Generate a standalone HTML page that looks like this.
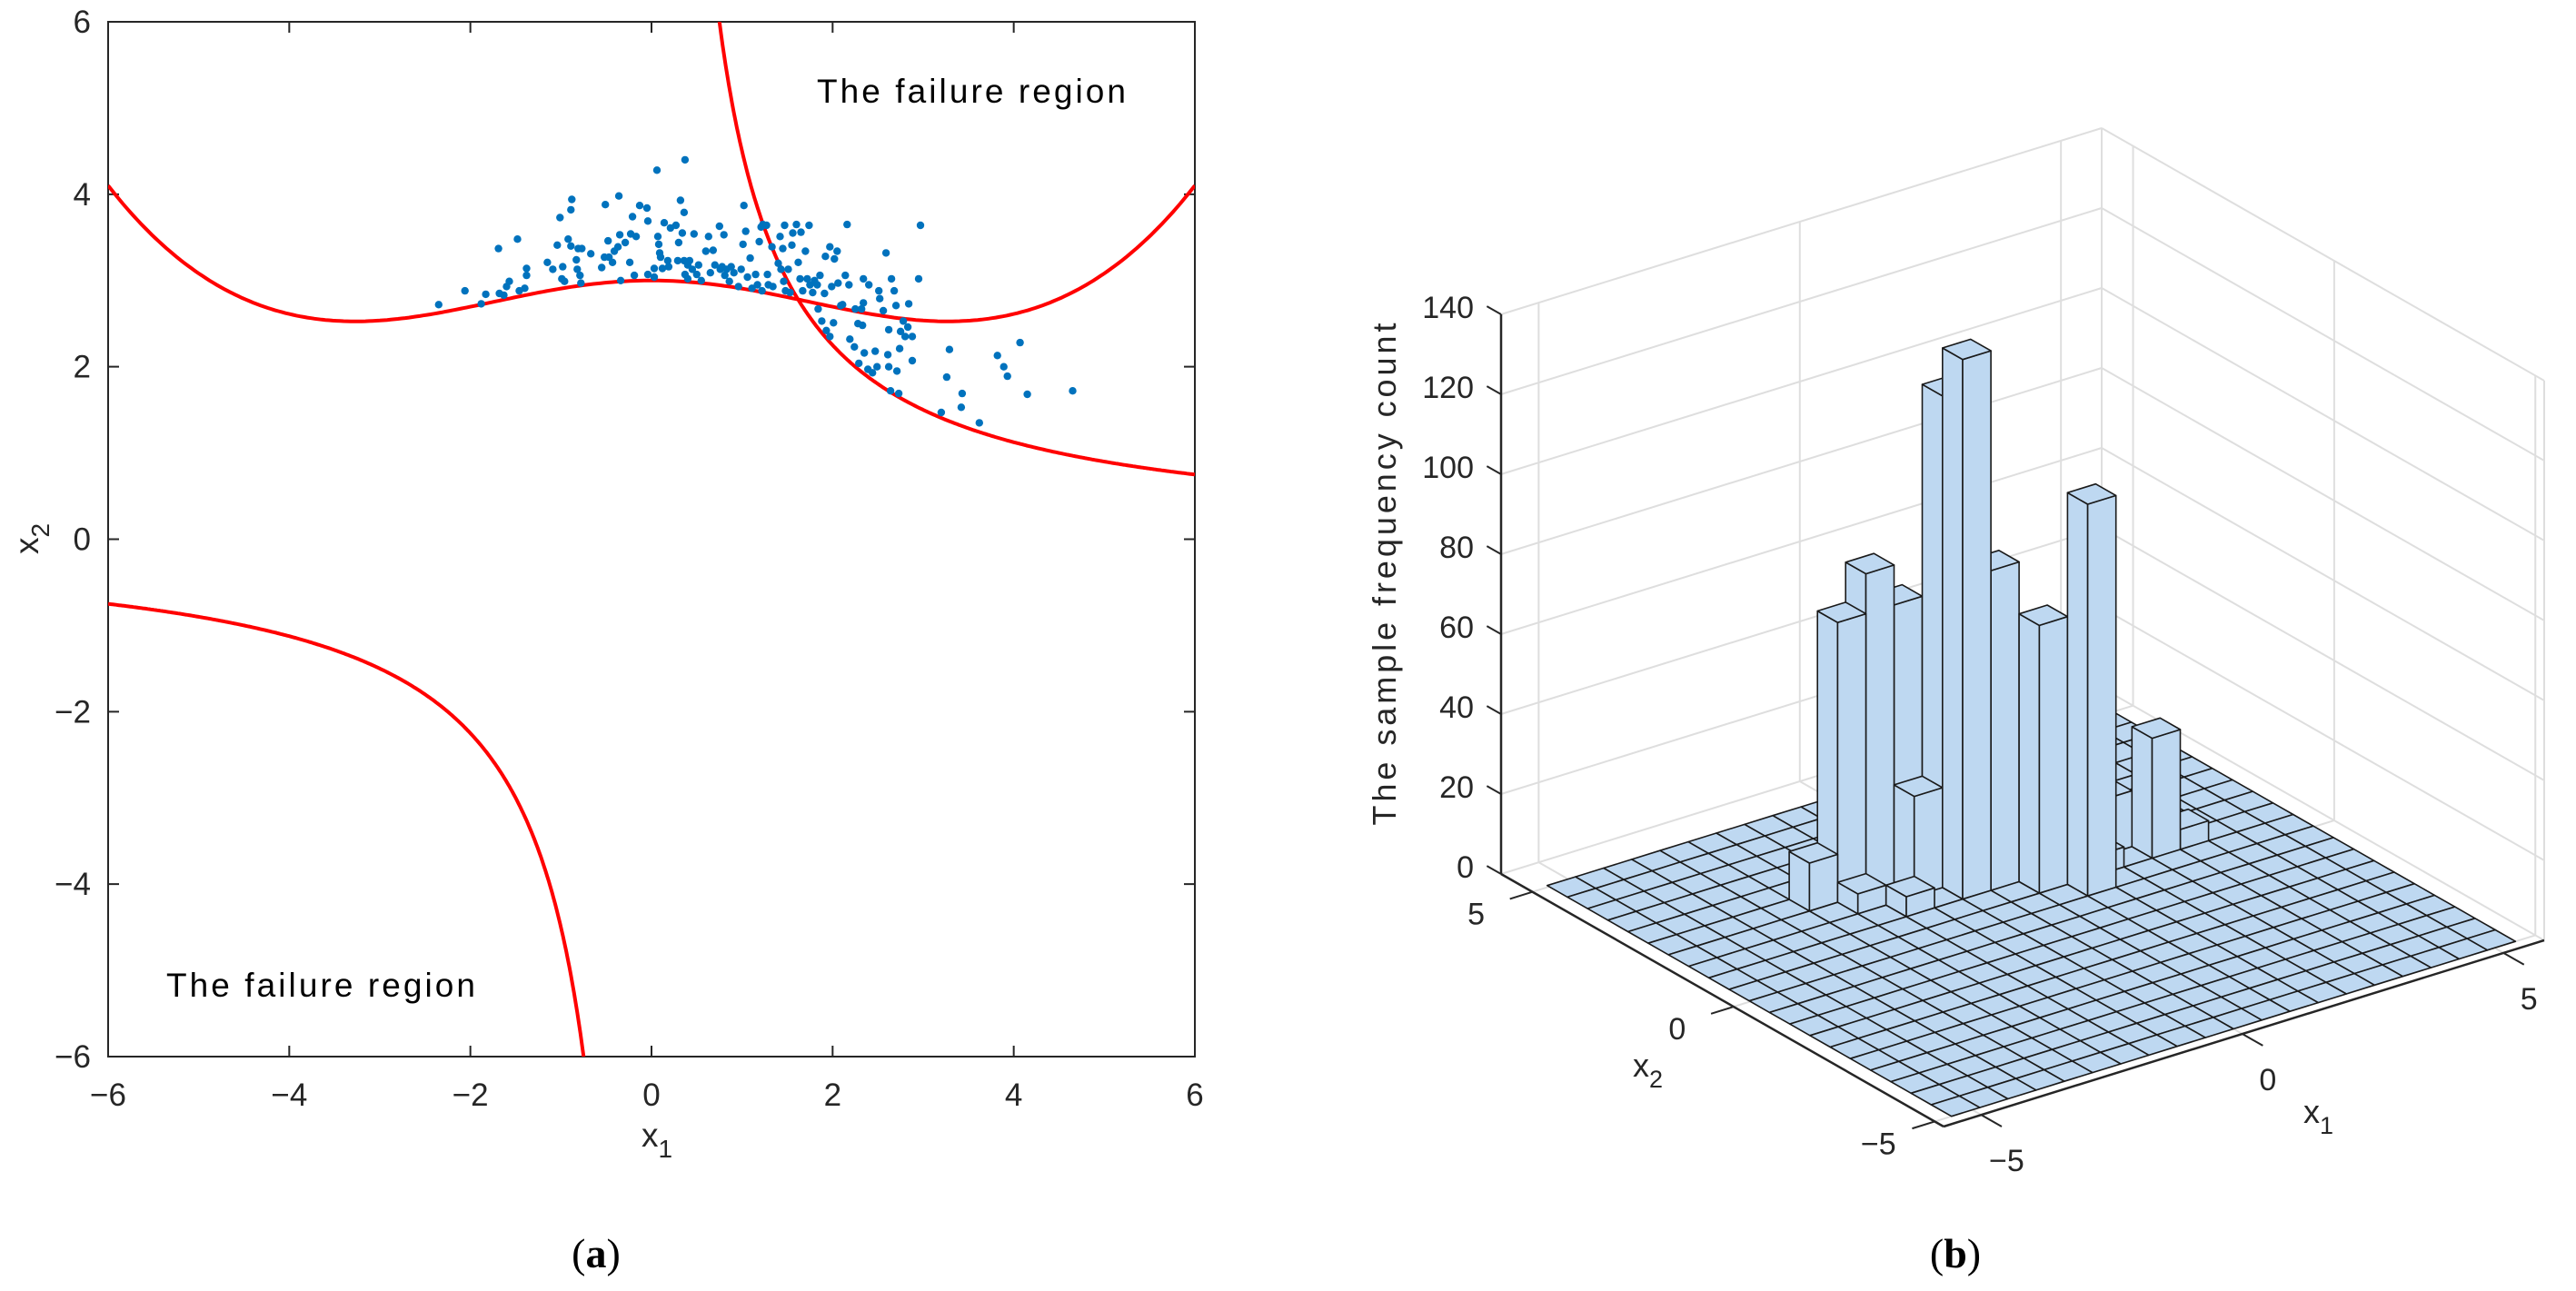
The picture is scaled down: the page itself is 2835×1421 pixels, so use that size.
<!DOCTYPE html>
<html><head><meta charset="utf-8"><style>
html,body{margin:0;padding:0;background:#fff;}
svg{display:block;font-family:"Liberation Sans",Arial,sans-serif;}
</style></head><body>
<svg id="fig" width="2835" height="1421" viewBox="0 0 2835 1421" xmlns="http://www.w3.org/2000/svg">
<g id="left"></g>
<g id="right"></g>
<text x="656" y="1395" font-family="Liberation Serif,serif" font-size="46" text-anchor="middle" fill="#000">(<tspan font-weight="bold">a</tspan>)</text>
<text x="2152" y="1395" font-family="Liberation Serif,serif" font-size="46" text-anchor="middle" fill="#000">(<tspan font-weight="bold">b</tspan>)</text>
</svg>
<script>
// ---------- data: panel (a) ----------
const sampleX1 = [-2.35,-2.06,-1.88,-1.83,-1.69,-1.68,-1.63,-1.60,-1.57,-1.48,-1.46,-1.40,-1.38,-1.38,-1.15,-1.09,-1.04,-1.01,-0.99,-0.98,-0.96,-0.92,-0.89,-0.88,-0.89,-0.83,-0.82,-0.81,-0.79,-0.78,-0.77,-0.67,-0.55,-0.52,-0.51,-0.48,-0.47,-0.43,-0.41,-0.37,-0.36,-0.35,-0.34,-0.29,-0.24,-0.23,-0.21,-0.19,-0.17,-0.13,-0.05,-0.04,-0.04,0.03,0.03,0.06,0.07,0.08,0.09,0.10,0.12,0.14,0.18,0.19,0.21,0.27,0.29,0.30,0.32,0.34,0.36,0.36,0.37,0.37,0.40,0.40,0.42,0.45,0.47,0.50,0.52,0.55,0.60,0.63,0.65,0.68,0.70,0.75,0.76,0.78,0.80,0.81,0.83,0.86,0.88,0.91,0.96,0.99,1.01,1.02,1.04,1.06,1.09,1.11,1.15,1.17,1.19,1.21,1.22,1.23,1.27,1.28,1.29,1.33,1.34,1.40,1.42,1.43,1.45,1.46,1.47,1.48,1.51,1.53,1.55,1.56,1.60,1.62,1.64,1.65,1.67,1.70,1.72,1.74,1.75,1.78,1.80,1.83,1.84,1.86,1.88,1.91,1.92,1.93,1.97,1.97,1.99,2.01,2.02,2.05,2.06,2.09,2.11,2.14,2.16,2.18,2.19,2.24,2.25,2.28,2.29,2.32,2.33,2.34,2.34,2.35,2.39,2.40,2.44,2.47,2.49,2.51,2.52,2.56,2.59,2.61,2.62,2.62,2.64,2.65,2.68,2.70,2.71,2.73,2.74,2.75,2.78,2.80,2.83,2.84,2.88,2.88,2.95,2.97,3.20,3.26,3.29,3.42,3.43,3.62,3.82,3.89,3.93,4.07,4.15,4.65];
const sampleX2 = [2.72,2.88,2.73,2.84,3.37,2.85,2.83,2.93,2.99,3.48,2.88,2.91,3.06,3.14,3.21,3.13,3.41,3.73,3.02,3.16,2.99,3.48,3.82,3.94,3.40,3.24,3.13,3.37,3.06,2.97,3.37,3.31,3.15,3.27,3.88,3.46,3.27,3.21,3.34,3.39,3.98,3.53,3.00,3.44,3.21,3.54,3.74,3.06,3.51,3.87,3.84,3.69,3.07,3.04,3.14,4.28,3.51,3.42,3.32,3.27,3.14,3.67,3.23,3.16,3.61,3.64,3.23,3.44,3.93,3.55,3.79,3.23,4.40,3.07,3.18,3.02,3.23,3.13,3.54,3.07,3.18,3.00,3.34,3.51,3.09,3.35,3.18,3.63,3.13,3.16,3.53,3.06,3.13,2.99,3.16,3.09,2.93,3.13,3.42,3.87,3.57,3.04,3.26,2.91,3.07,2.95,3.45,3.62,2.88,3.65,3.64,3.07,2.95,3.39,2.93,3.20,3.51,3.13,3.37,2.99,3.64,2.88,3.13,2.86,3.41,3.55,3.65,3.21,3.02,3.56,2.88,3.34,3.02,3.64,2.95,2.86,3.00,2.95,2.67,3.06,2.53,2.85,3.28,2.42,3.39,2.35,2.93,2.51,3.25,3.34,2.97,2.71,2.72,3.06,3.65,2.95,2.32,2.23,2.67,2.50,2.04,2.67,2.48,3.02,2.74,2.16,1.97,2.95,1.93,2.18,2.00,2.88,2.79,2.65,3.32,2.14,2.43,2.00,1.72,3.02,2.88,2.71,1.95,1.69,2.21,2.41,2.53,2.35,2.46,2.73,2.35,2.07,3.02,3.64,1.47,1.88,2.20,1.53,1.69,1.35,2.13,2.00,1.89,2.28,1.68,1.72];
const axisTicksA = [-6,-4,-2,0,2,4,6];
const limitProduct = [4.5];

// ---------- data: panel (b) ----------
const binI   = [9,9,7,6,8,10,11,12,15,14,15,8,5,6,13,16,14,10,8,12,13,16,7];
const binJ   = [12,13,14,14,14,12,11,10,11,12,12,13,14,13,11,12,13,14,15,13,13,11,12];
const counts = [135,123,80,70,70,80,67,98,30,14,10,25,12,5,5,4,8,10,8,5,8,5,5];
const zTicks = [0,20,40,60,80,100,120,140];
const xyTicks = [-5,0,5];

const NS='http://www.w3.org/2000/svg';
function mk(tag, attrs, parent){const e=document.createElementNS(NS,tag);for(const k in attrs)e.setAttribute(k,attrs[k]);parent.appendChild(e);return e;}
const fmt=v=>(v<0?'\u2212'+Math.abs(v):String(v));

// ================= Panel (a) =================
const L=document.getElementById('left');
const AX0=119,AX1=1315,AY0=24,AY1=1163;
const sx=v=>AX0+(v+6)/12*(AX1-AX0);
const sy=v=>AY1-(v+6)/12*(AY1-AY0);
let box=mk('rect',{x:AX0,y:AY0,width:AX1-AX0,height:AY1-AY0,fill:'#fff',stroke:'#262626','stroke-width':2},L);


axisTicksA.forEach(t=>{
  const X=sx(t),Y=sy(t);
  const tk=mk('path',{d:`M${X},${AY1}v-12M${X},${AY0}v12M${AX0},${Y}h12M${AX1},${Y}h-12`,stroke:'#262626','stroke-width':2,fill:'none'},L);
  
  
  const xl=mk('text',{x:X,y:1217,'font-size':35,'text-anchor':'middle',fill:'#262626'},L);xl.textContent=fmt(t);
  
  
  const yl=mk('text',{x:100,y:Y+12,'font-size':35,'text-anchor':'end',fill:'#262626'},L);yl.textContent=fmt(t);
  
  
});
// curves
function pathFrom(pts){return pts.map((p,k)=>(k?'L':'M')+sx(p[0]).toFixed(1)+','+sy(p[1]).toFixed(1)).join('');}
const c=limitProduct[0];
let up=[],lo=[],wave=[];
for(let k=0;k<=300;k++){const x=c/6+(6-c/6)*k/300;up.push([x,c/x]);lo.push([-x,-c/x]);}
for(let k=0;k<=300;k++){const x=-6+12*k/300;wave.push([x,2+Math.exp(-x*x/10)+Math.pow(x/5,4)]);}
const clipId='clipA';
const cp=mk('clipPath',{id:clipId},L);mk('rect',{x:AX0,y:AY0,width:AX1-AX0,height:AY1-AY0},cp);
[[up,'limit-curve-upper'],[lo,'limit-curve-lower'],[wave,'limit-curve-wave']].forEach(([p,n])=>{
  const e=mk('path',{d:pathFrom(p),stroke:'#ff0000','stroke-width':4,fill:'none','clip-path':'url(#clipA)'},L);
  
  
});
sampleX1.forEach((x,k)=>{
  const d=mk('circle',{cx:sx(x).toFixed(1),cy:sy(sampleX2[k]).toFixed(1),r:4.2,fill:'#0072bd'},L);
  
  
});
let t1=mk('text',{x:899,y:113,'font-size':37,fill:'#000',textLength:340},L);t1.textContent='The failure region';


let t2=mk('text',{x:183,y:1097,'font-size':37,fill:'#000',textLength:340},L);t2.textContent='The failure region';


let xt=mk('text',{x:706,y:1262,'font-size':37,fill:'#262626'},L);xt.innerHTML='x<tspan font-size="28" dy="12">1</tspan>';


let yt=mk('text',{x:0,y:0,'font-size':37,fill:'#262626',transform:'translate(42,610) rotate(-90)'},L);yt.innerHTML='x<tspan font-size="28" dy="12">2</tspan>';



// ================= Panel (b) =================
const R=document.getElementById('right');
const F0=[2139,1240],EX=[661,-205],EY=[-487,-278],ZS=4.4;
const X1LO=-5.72,X1HI=5.78,X2LO=-5.22,X2HI=5.78;
const G1=[-5.4,5.4],G2=[-5.0,5.05],NB=20;
function P(x1,x2,z){const a=(x1-X1LO)/(X1HI-X1LO),b=(x2-X2LO)/(X2HI-X2LO);return [F0[0]+EX[0]*a+EY[0]*b,F0[1]+EX[1]*a+EY[1]*b-ZS*z];}
const poly=pts=>pts.map(p=>p[0].toFixed(1)+','+p[1].toFixed(1)).join(' ');
const line=(p,q,col,w,name)=>{const e=mk('line',{x1:p[0],y1:p[1],x2:q[0],y2:q[1],stroke:col,'stroke-width':w},R);return e;};
const GC='#dedede';
// back walls grid
zTicks.forEach(z=>{
  line(P(X1LO,X2HI,z),P(X1HI,X2HI,z),GC,2,'z-gridline');
  line(P(X1HI,X2HI,z),P(X1HI,X2LO,z),GC,2,'z-gridline');
});
xyTicks.forEach(t=>{
  line(P(t,X2HI,0),P(t,X2HI,140),GC,2,'x1-gridline');
  line(P(t,X2LO,0),P(t,X2HI,0),GC,2,'x1-gridline');
  line(P(X1HI,t,0),P(X1HI,t,140),GC,2,'x2-gridline');
  line(P(X1LO,t,0),P(X1HI,t,0),GC,2,'x2-gridline');
});
line(P(X1LO,X2HI,0),P(X1LO,X2HI,140),GC,2,'wall-edge');
line(P(X1HI,X2HI,0),P(X1HI,X2HI,140),GC,2,'wall-edge');
line(P(X1HI,X2LO,0),P(X1HI,X2LO,140),GC,2,'wall-edge');
// axis lines
line(P(X1LO,X2HI,0),P(X1LO,X2HI,140),'#262626',2.5,'z-axis-line');
line(P(X1LO,X2HI,0),P(X1LO,X2LO,0),'#262626',2.5,'x2-axis-line');
line(P(X1LO,X2LO,0),P(X1HI,X2LO,0),'#262626',2.5,'x1-axis-line');
// height grid
const H=[];for(let i=0;i<NB;i++){H.push(new Array(NB).fill(0));}
binI.forEach((bi,k)=>{H[bi][binJ[k]]=counts[k];});
const w1=(G1[1]-G1[0])/NB,w2=(G2[1]-G2[0])/NB;
const cells=[];for(let i=0;i<NB;i++)for(let j=0;j<NB;j++)cells.push([i,j]);
cells.sort((p,q)=>(q[0]+q[1])-(p[0]+p[1]));
const FC='#bed8f1',EC='#1a1a1a';
cells.forEach(([i,j])=>{
  const h=H[i][j];
  const a0=G1[0]+i*w1,a1=a0+w1,b0=G2[0]+j*w2,b1=b0+w2;
  const g=mk('g',{},R);
  
  
  if(h>0){
    mk('polygon',{points:poly([P(a0,b0,0),P(a0,b1,0),P(a0,b1,h),P(a0,b0,h)]),fill:FC,stroke:EC,'stroke-width':1.6,'stroke-linejoin':'round'},g);
    mk('polygon',{points:poly([P(a0,b0,0),P(a1,b0,0),P(a1,b0,h),P(a0,b0,h)]),fill:FC,stroke:EC,'stroke-width':1.6,'stroke-linejoin':'round'},g);
  }
  mk('polygon',{points:poly([P(a0,b0,h),P(a1,b0,h),P(a1,b1,h),P(a0,b1,h)]),fill:FC,stroke:EC,'stroke-width':1.6,'stroke-linejoin':'round'},g);
});
// ticks & labels
const len=Math.hypot(EY[0],EY[1]),lenx=Math.hypot(EX[0],EX[1]);
zTicks.forEach(z=>{
  const p=P(X1LO,X2HI,z);
  line(p,[p[0]+EY[0]/len*18,p[1]+EY[1]/len*18],'#262626',2,'z-tick');
  const t=mk('text',{x:p[0]-30,y:p[1]+4,'font-size':34,'text-anchor':'end',fill:'#262626'},R);t.textContent=fmt(z);
  
  
});
xyTicks.forEach(v=>{
  const p=P(X1LO,v,0);
  line(p,[p[0]-EX[0]/lenx*26,p[1]-EX[1]/lenx*26],'#262626',2,'x2-tick');
  const t=mk('text',{x:p[0]-62,y:p[1]+36,'font-size':34,'text-anchor':'middle',fill:'#262626'},R);t.textContent=fmt(v);
  
  
  const q=P(v,X2LO,0);
  line(q,[q[0]-EY[0]/len*26,q[1]-EY[1]/len*26],'#262626',2,'x1-tick');
  const u=mk('text',{x:q[0]+28,y:q[1]+62,'font-size':34,'text-anchor':'middle',fill:'#262626'},R);u.textContent=fmt(v);
  
  
});
let zl=mk('text',{x:0,y:0,'font-size':36,fill:'#262626','text-anchor':'middle',textLength:553,transform:'translate(1536,632) rotate(-90)'},R);zl.textContent='The sample frequency count';


let x2l=mk('text',{x:1797,y:1185,'font-size':36,fill:'#262626'},R);x2l.innerHTML='x<tspan font-size="27" dy="12">2</tspan>';


let x1l=mk('text',{x:2535,y:1236,'font-size':36,fill:'#262626'},R);x1l.innerHTML='x<tspan font-size="27" dy="12">1</tspan>';


</script>
</body></html>
